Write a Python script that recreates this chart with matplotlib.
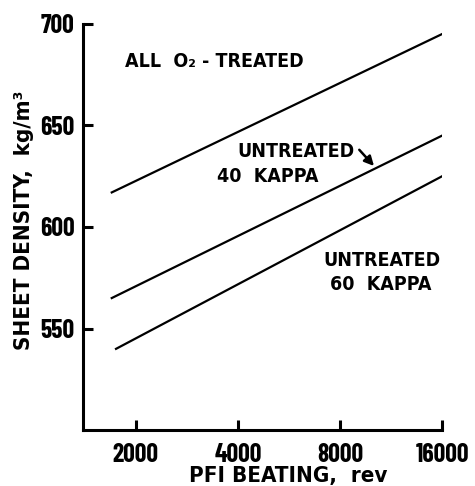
import matplotlib
matplotlib.use("Agg")
import matplotlib.pyplot as plt
from matplotlib.ticker import FixedLocator, NullLocator

# tick numbers in Barlow Condensed, words in condensed DejaVu Sans
plt.rcParams['font.family'] = ['Barlow Condensed', 'DejaVu Sans']
plt.rcParams['font.stretch'] = 'condensed'
plt.rcParams['font.weight'] = 'bold'

TEXT_FONT = 'DejaVu Sans'

# PFI beating revolutions (start / end of each fitted line)
beating = [1700, 16000]
o2_treated = [617, 695]
untreated_40 = [565, 645]
beating_60 = [1750, 16000]
untreated_60 = [540, 625]

x_ticks = [2000, 4000, 8000, 16000]
y_ticks = [550, 600, 650, 700]

fig = plt.figure(figsize=(4.75, 4.86), dpi=100)
ax = fig.add_axes([0.175, 0.115, 0.756, 0.836])

ax.plot(beating, o2_treated, color='black', lw=1.6)
ax.plot(beating, untreated_40, color='black', lw=1.6)
ax.plot(beating_60, untreated_60, color='black', lw=1.6)

ax.set_xscale('log')
ax.set_xlim(1400, 16000)
ax.set_ylim(500, 700)
ax.xaxis.set_major_locator(FixedLocator(x_ticks))
ax.xaxis.set_minor_locator(NullLocator())
ax.set_xticklabels([str(v) for v in x_ticks])
ax.yaxis.set_major_locator(FixedLocator(y_ticks))

for side in ['top', 'right']:
    ax.spines[side].set_visible(False)
for side in ['left', 'bottom']:
    ax.spines[side].set_linewidth(2.2)

ax.tick_params(direction='in', length=7, width=2.2, labelsize=18.5)
ax.tick_params(axis='x', pad=9)
ax.tick_params(axis='y', pad=6)

ax.set_xlabel('PFI BEATING,  rev', family=TEXT_FONT, fontsize=16,
              fontweight='bold', va='baseline')
ax.xaxis.set_label_coords(0.571, -0.128)
ax.set_ylabel('SHEET DENSITY,  kg/m\u00b3', family=TEXT_FONT, fontsize=16,
              fontweight='bold', va='baseline')
ax.yaxis.set_label_coords(-0.147, 0.517)

ax.text(0.117, 0.894, 'ALL  O\u2082 - TREATED', transform=ax.transAxes,
        family=TEXT_FONT, fontsize=14, fontweight='bold', va='baseline', ha='left')
ax.text(0.429, 0.672, 'UNTREATED', transform=ax.transAxes,
        family=TEXT_FONT, fontsize=14, fontweight='bold', va='baseline', ha='left')
ax.text(0.373, 0.611, '40  KAPPA', transform=ax.transAxes,
        family=TEXT_FONT, fontsize=14, fontweight='bold', va='baseline', ha='left')
ax.text(0.668, 0.404, 'UNTREATED', transform=ax.transAxes,
        family=TEXT_FONT, fontsize=14, fontweight='bold', va='baseline', ha='left')
ax.text(0.688, 0.345, '60  KAPPA', transform=ax.transAxes,
        family=TEXT_FONT, fontsize=14, fontweight='bold', va='baseline', ha='left')

ax.annotate('', xy=(10200, 629), xytext=(9000, 639),
            arrowprops=dict(arrowstyle='-|>', color='black', lw=1.8,
                            mutation_scale=14))

fig.savefig('out.png', dpi=100)
